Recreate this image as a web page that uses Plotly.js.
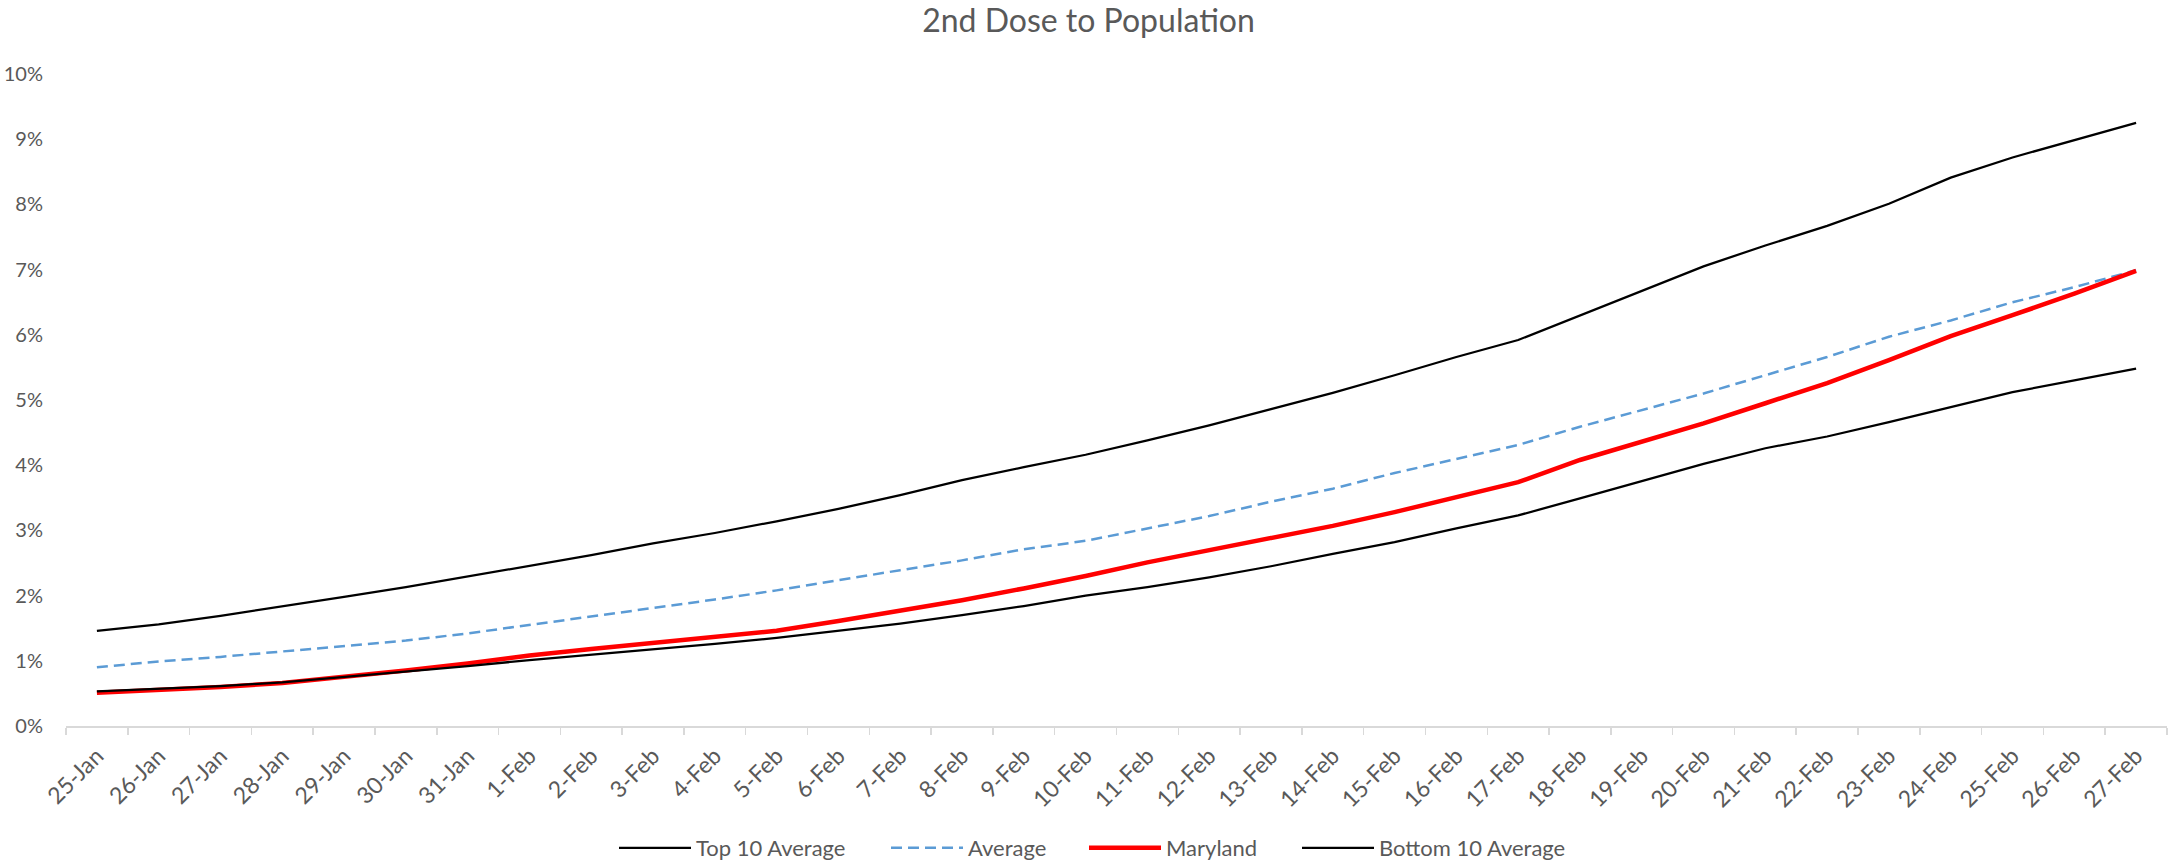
<!DOCTYPE html>
<html>
<head>
<meta charset="utf-8">
<script src="https://cdn.plot.ly/plotly-3.0.1.min.js"></script>
<style>
  html, body { margin: 0; padding: 0; background: #ffffff; }
  #chart { width: 2177px; height: 865px; }
</style>
</head>
<body>
<div id="chart"></div>
<script>
const dates = ["25-Jan","26-Jan","27-Jan","28-Jan","29-Jan","30-Jan","31-Jan",
  "1-Feb","2-Feb","3-Feb","4-Feb","5-Feb","6-Feb","7-Feb","8-Feb","9-Feb","10-Feb",
  "11-Feb","12-Feb","13-Feb","14-Feb","15-Feb","16-Feb","17-Feb","18-Feb","19-Feb",
  "20-Feb","21-Feb","22-Feb","23-Feb","24-Feb","25-Feb","26-Feb","27-Feb"];

const top10Average = [1.46,1.56,1.69,1.83,1.98,2.13,2.29,2.46,2.62,2.80,2.96,3.14,3.33,3.54,
  3.77,3.97,4.16,4.38,4.61,4.86,5.11,5.38,5.66,5.92,6.30,6.68,7.05,7.37,7.67,8.01,8.41,8.72,8.98,9.25];

const average = [0.90,0.99,1.06,1.14,1.22,1.31,1.42,1.55,1.68,1.80,1.94,2.08,2.24,2.39,
  2.54,2.71,2.84,3.03,3.22,3.44,3.64,3.88,4.10,4.31,4.59,4.84,5.10,5.38,5.66,5.97,6.22,6.50,6.73,6.99];

const maryland = [0.51,0.55,0.60,0.66,0.75,0.85,0.96,1.08,1.18,1.27,1.36,1.46,1.61,1.77,
  1.93,2.11,2.30,2.51,2.70,2.88,3.07,3.28,3.51,3.74,4.08,4.36,4.64,4.95,5.26,5.61,5.98,6.30,6.63,6.98];

const bottom10Average = [0.53,0.57,0.61,0.67,0.75,0.83,0.92,1.01,1.09,1.18,1.26,1.35,1.46,1.57,
  1.70,1.84,2.00,2.13,2.28,2.45,2.64,2.82,3.03,3.23,3.49,3.75,4.02,4.26,4.44,4.66,4.89,5.12,5.30,5.48];

const seriesNames = ["Top 10 Average", "Average", "Maryland", "Bottom 10 Average"];

const FONT = "Lato, 'Open Sans', sans-serif";
const TXT = "#595959";

const traces = [
  { x: dates, y: top10Average, name: seriesNames[0], type: "scatter", mode: "lines",
    legend: "legend", line: { color: "#000000", width: 2.25 } },
  { x: dates, y: average, name: seriesNames[1], type: "scatter", mode: "lines",
    legend: "legend2", line: { color: "#5B9BD5", width: 2.5, dash: "11px,6px" } },
  { x: dates, y: maryland, name: seriesNames[2], type: "scatter", mode: "lines",
    legend: "legend3", line: { color: "#FF0000", width: 4.5 } },
  { x: dates, y: bottom10Average, name: seriesNames[3], type: "scatter", mode: "lines",
    legend: "legend4", line: { color: "#000000", width: 2.25 } }
];

function legendAt(px) {
  return {
    orientation: "h",
    x: px / 2177, xanchor: "left", xref: "container",
    y: 1 - 848 / 865, yanchor: "middle", yref: "container",
    font: { family: FONT, size: 22, color: TXT },
    itemwidth: 72,
    bgcolor: "rgba(0,0,0,0)",
    borderwidth: 0
  };
}

const layout = {
  width: 2177, height: 865,
  paper_bgcolor: "#ffffff", plot_bgcolor: "#ffffff",
  margin: { l: 66, r: 10, t: 74, b: 139, pad: 0 },
  font: { family: FONT, color: TXT, size: 20 },
  title: {
    text: "2nd Dose to Population",
    font: { family: FONT, size: 32, color: TXT },
    x: 0.5, xanchor: "center", xref: "container",
    y: 1 - 21 / 865, yanchor: "middle", yref: "container"
  },
  xaxis: {
    type: "category",
    range: [-0.5, dates.length - 0.5],
    showgrid: false, zeroline: false,
    showline: true, linecolor: "#d9d9d9", linewidth: 1.5,
    ticks: "outside", tickson: "boundaries", ticklen: 7, tickwidth: 1.5, tickcolor: "#d9d9d9",
    tickangle: -45,
    ticklabelstandoff: 6,
    tickfont: { family: FONT, size: 23, color: TXT },
    fixedrange: true
  },
  yaxis: {
    range: [0, 10],
    dtick: 1, tick0: 0,
    ticksuffix: "%",
    showgrid: false, zeroline: false, showline: false,
    ticks: "",
    ticklabelstandoff: 22,
    tickfont: { family: FONT, size: 20, color: TXT },
    fixedrange: true
  },
  showlegend: true,
  legend: legendAt(614),
  legend2: legendAt(886),
  legend3: legendAt(1084),
  legend4: legendAt(1297)
};

Plotly.newPlot("chart", traces, layout, { displayModeBar: false, staticPlot: true });
</script>
</body>
</html>
